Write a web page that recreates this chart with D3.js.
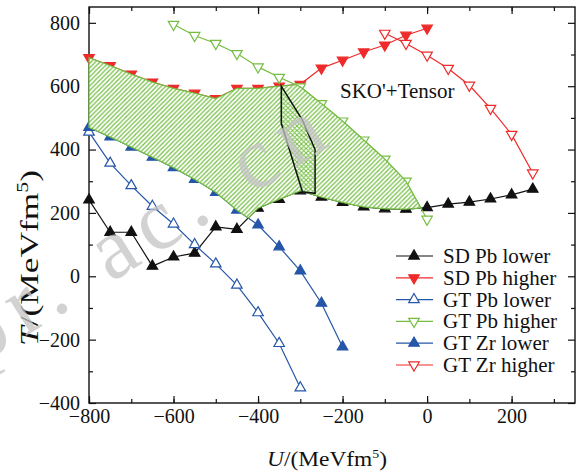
<!DOCTYPE html>
<html>
<head>
<meta charset="utf-8">
<script src="https://cdn.jsdelivr.net/npm/d3@7"></script>
<style>
  body { margin: 0; background: #fff; }
  text { font-family: "Liberation Serif", "Times New Roman", serif; }
</style>
</head>
<body>
<svg id="chart"></svg>
<script>
// values
const sdPbLowerU  = [-800,-750,-700,-650,-600,-550,-500,-450,-400,-350,-300,-250,-200,-150,-100,-50,0,50,100,150,200,250]
const sdPbLowerT  = [241,139,139,32,61,73,156,148,215,243,270,250,233,219,213,212,217,228,234,244,257,275]
const sdPbHigherU = [-800,-750,-700,-650,-600,-550,-500,-450,-400,-350,-300,-250,-200,-150,-100,-50,0]
const sdPbHigherT = [690,665,638,613,593,578,561,593,593,600,606,657,682,708,730,761,783]
const gtPbLowerU  = [-800,-750,-700,-650,-600,-550,-500,-450,-400,-350,-300]
const gtPbLowerT  = [455,357,286,221,165,100,39,-28,-115,-212,-352]
const gtPbHigherU = [-600,-550,-500,-450,-400,-350,-300,-250,-200,-150,-100,-50,0]
const gtPbHigherT = [795,760,735,703,661,628,598,545,490,430,370,300,180]
const gtZrLowerU  = [-800,-750,-700,-650,-600,-550,-500,-450,-400,-350,-300,-250,-200]
const gtZrLowerT  = [470,440,408,376,343,306,265,209,162,93,17,-85,-223]
const gtZrHigherU = [-100,-50,0,50,100,150,200,250]
const gtZrHigherT = [767,735,698,656,603,530,448,326]

// cross-hatched overlap outline (U, T)
const overlapPoly = [[-345,600],[-295,493],[-265,400],[-265,262],[-295,267],[-345,483]]

const xTicks = [-800,-600,-400,-200,0,200]
const yTicks = [-400,-200,0,200,400,600,800]

const width = 587, height = 473
const margin = ({top: 7, right: 12, bottom: 70, left: 89})

const black = "#111", red = "#ee2a2a", blue = "#2556a8", green = "#74bd42"
const serif = "Liberation Serif, Times New Roman, serif"

const series = [
  {name: "SD Pb lower",  u: sdPbLowerU,  t: sdPbLowerT,  color: black, down: false, filled: true},
  {name: "SD Pb higher", u: sdPbHigherU, t: sdPbHigherT, color: red,   down: true,  filled: true},
  {name: "GT Pb lower",  u: gtPbLowerU,  t: gtPbLowerT,  color: blue,  down: false, filled: false},
  {name: "GT Pb higher", u: gtPbHigherU, t: gtPbHigherT, color: green, down: true,  filled: false},
  {name: "GT Zr lower",  u: gtZrLowerU,  t: gtZrLowerT,  color: blue,  down: false, filled: true},
  {name: "GT Zr higher", u: gtZrHigherU, t: gtZrHigherT, color: red,   down: true,  filled: false}
]

const x = d3.scaleLinear().domain([-800, 350]).range([margin.left, width - margin.right])
const y = d3.scaleLinear().domain([-400, 850]).range([height - margin.bottom, margin.top])

const svg = d3.select("#chart").attr("width", width).attr("height", height)

const defs = svg.append("defs")
const hatch = defs.append("pattern").attr("id", "hatch")
  .attr("patternUnits", "userSpaceOnUse").attr("width", 4.5).attr("height", 4.5)
hatch.append("rect").attr("width", 4.5).attr("height", 4.5).attr("fill", "#fff")
hatch.append("path").attr("d", "M-1,1L1,-1M0,4.5L4.5,0M3.5,5.5L5.5,3.5")
  .attr("stroke", green).attr("stroke-width", 1.2)
const cross = defs.append("pattern").attr("id", "cross")
  .attr("patternUnits", "userSpaceOnUse").attr("width", 4.5).attr("height", 4.5)
cross.append("rect").attr("width", 4.5).attr("height", 4.5).attr("fill", "#fff")
cross.append("path").attr("d", "M-1,1L1,-1M0,4.5L4.5,0M3.5,5.5L5.5,3.5M-1,3.5L1,5.5M0,0L4.5,4.5M3.5,-1L5.5,1")
  .attr("stroke", green).attr("stroke-width", 1)

const fmt = d => d < 0 ? "\u2212" + Math.abs(d) : "" + d

// axes, ticks point inward on all four sides
const plotB = height - margin.bottom, plotT = margin.top
const plotL = margin.left, plotR = width - margin.right

svg.append("g").attr("transform", `translate(0,${plotB})`)
  .call(d3.axisBottom(x).tickValues(d3.range(-800, 351, 100)).tickSize(-4).tickFormat(""))
  .call(g => g.select(".domain").remove())
svg.append("g").attr("transform", `translate(0,${plotB})`)
  .call(d3.axisBottom(x).tickValues(xTicks).tickSize(-7).tickPadding(6).tickFormat(fmt))
  .call(g => g.select(".domain").remove())
  .attr("font-family", serif).attr("font-size", 20)
  .call(g => g.selectAll("text").attr("fill", "#111"))
svg.append("g").attr("transform", `translate(0,${plotT})`)
  .call(d3.axisTop(x).tickValues(d3.range(-800, 351, 100)).tickSize(-4).tickFormat(""))
  .call(g => g.select(".domain").remove())
svg.append("g").attr("transform", `translate(0,${plotT})`)
  .call(d3.axisTop(x).tickValues(xTicks).tickSize(-7).tickFormat(""))
  .call(g => g.select(".domain").remove())

svg.append("g").attr("transform", `translate(${plotL},0)`)
  .call(d3.axisLeft(y).tickValues(d3.range(-300, 851, 200)).tickSize(-4).tickFormat(""))
  .call(g => g.select(".domain").remove())
svg.append("g").attr("transform", `translate(${plotL},0)`)
  .call(d3.axisLeft(y).tickValues(yTicks).tickSize(-7).tickPadding(9).tickFormat(fmt))
  .call(g => g.select(".domain").remove())
  .attr("font-family", serif).attr("font-size", 20)
  .call(g => g.selectAll("text").attr("fill", "#111"))
svg.append("g").attr("transform", `translate(${plotR},0)`)
  .call(d3.axisRight(y).tickValues(d3.range(-300, 851, 200)).tickSize(-4).tickFormat(""))
  .call(g => g.select(".domain").remove())
svg.append("g").attr("transform", `translate(${plotR},0)`)
  .call(d3.axisRight(y).tickValues(yTicks).tickSize(-7).tickFormat(""))
  .call(g => g.select(".domain").remove())

svg.selectAll(".tick line").attr("stroke", "#111").attr("stroke-width", 1.2)

svg.append("rect")
  .attr("x", plotL).attr("y", plotT)
  .attr("width", plotR - plotL).attr("height", plotB - plotT)
  .attr("fill", "none").attr("stroke", "#111").attr("stroke-width", 1.4)

// series
const line = d3.line().x(d => x(d[0])).y(d => y(d[1]))
const tri = d3.symbol(d3.symbolTriangle, 48)

series.forEach(s => {
  const pts = s.u.map((u, i) => [u, s.t[i]])
  svg.append("path").attr("d", line(pts))
    .attr("fill", "none").attr("stroke", s.color).attr("stroke-width", 1.2)
  svg.append("g").selectAll("path").data(pts).join("path")
    .attr("d", tri)
    .attr("transform", d => `translate(${x(d[0])},${y(d[1])})` + (s.down ? " rotate(180)" : ""))
    .attr("fill", s.filled ? s.color : "#fff")
    .attr("stroke", s.color).attr("stroke-width", 1.2)
})

// allowed region: below every "higher" curve and above every "lower" curve
function at(s, u) {
  if (u < s.u[0] || u > s.u[s.u.length - 1]) return null
  const i = Math.min(d3.bisectRight(s.u, u), s.u.length - 1)
  const i0 = Math.max(i - 1, 0)
  if (s.u[i] === s.u[i0]) return s.t[i0]
  const f = (u - s.u[i0]) / (s.u[i] - s.u[i0])
  return s.t[i0] + f * (s.t[i] - s.t[i0])
}
const highs = series.filter(s => s.name.includes("higher"))
const lows = series.filter(s => s.name.includes("lower"))
const band = []
let prev = null
for (let u = -800; u <= 350; u += 1) {
  const hi = d3.min(highs.map(s => at(s, u)).filter(v => v !== null))
  const lo = d3.max(lows.map(s => at(s, u)).filter(v => v !== null))
  if (hi === undefined || lo === undefined) break
  if (hi < lo) {
    if (prev) {
      const g0 = prev.hi - prev.lo, g1 = hi - lo
      const f = g0 / (g0 - g1)
      const uc = prev.u + f
      const tc = prev.lo + f * (lo - prev.lo)
      band.push({u: uc, hi: tc, lo: tc})
    }
    break
  }
  prev = {u, hi, lo}
  band.push(prev)
}
const area = d3.area().x(d => x(d.u)).y0(d => y(d.lo)).y1(d => y(d.hi))
svg.append("path").attr("d", area(band) + "Z")
  .attr("fill", "url(#hatch)").attr("stroke", green).attr("stroke-width", 1.2)

svg.append("path")
  .attr("d", d3.line().x(d => x(d[0])).y(d => y(d[1]))(overlapPoly) + "Z")
  .attr("fill", "url(#cross)").attr("stroke", black).attr("stroke-width", 1.5)

// label
svg.append("text").attr("x", 340).attr("y", 98)
  .attr("font-size", 21).attr("fill", "#111").text("SKO'+Tensor")

// legend
const legend = svg.append("g")
series.forEach((s, i) => {
  const ly = 256 + i * 21.8
  legend.append("line").attr("x1", 396).attr("x2", 433).attr("y1", ly).attr("y2", ly)
    .attr("stroke", s.color).attr("stroke-width", 1.2)
  legend.append("path").attr("d", tri)
    .attr("transform", `translate(414,${ly})` + (s.down ? " rotate(180)" : ""))
    .attr("fill", s.filled ? s.color : "#fff")
    .attr("stroke", s.color).attr("stroke-width", 1.2)
  legend.append("text").attr("x", 443).attr("y", ly + 7)
    .attr("font-size", 21).attr("fill", "#111").text(s.name)
})

// axis titles
const xt = svg.append("text").attr("x", 327).attr("y", 466)
  .attr("text-anchor", "middle").attr("font-size", 22).attr("fill", "#111")
  .attr("textLength", 120).attr("lengthAdjust", "spacingAndGlyphs")
xt.append("tspan").attr("font-style", "italic").text("U")
xt.append("tspan").text("/(MeVfm")
xt.append("tspan").attr("font-size", 13).attr("dy", -8).text("5")
xt.append("tspan").attr("dy", 8).text(")")

const yt = svg.append("text").attr("transform", "translate(38,258) rotate(-90)")
  .attr("text-anchor", "middle").attr("font-size", 26).attr("fill", "#111")
  .attr("textLength", 176).attr("lengthAdjust", "spacingAndGlyphs")
yt.append("tspan").attr("font-style", "italic").text("T")
yt.append("tspan").text("/(MeVfm")
yt.append("tspan").attr("font-size", 16).attr("dy", -10).text("5")
yt.append("tspan").attr("dy", 10).text(")")

// watermark
svg.append("text")
  .attr("transform", "translate(-22,366) rotate(-32)")
  .attr("font-family", "Liberation Sans, sans-serif")
  .attr("font-size", 88).attr("fill", "#c4c4c4").attr("opacity", 0.75)
  .attr("letter-spacing", 11)
  .text("pr. ac. cn")
</script>
</body>
</html>
